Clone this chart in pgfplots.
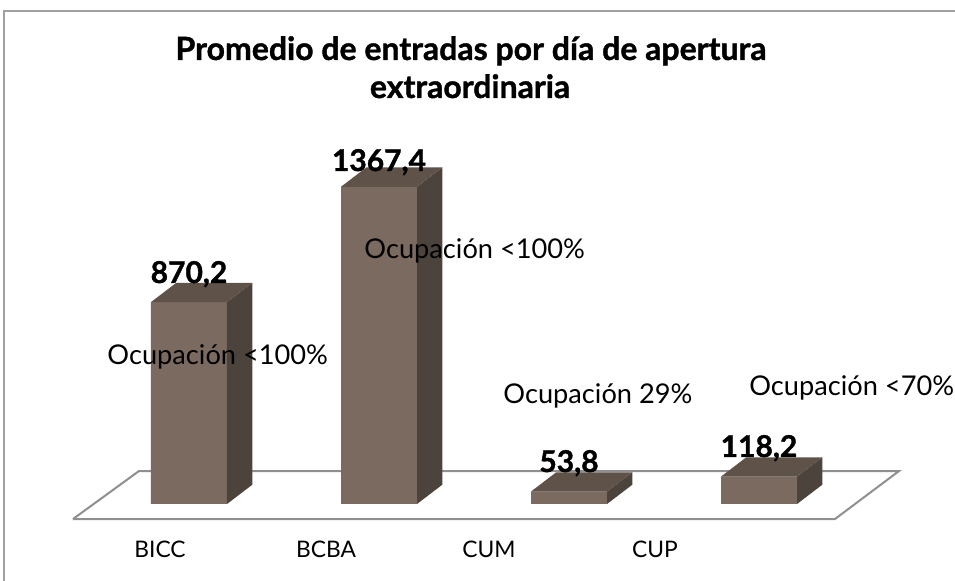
\documentclass[border=0pt]{standalone}
\usepackage{fontspec}
\setmainfont{Lato}
\usepackage{pgfplots}
\pgfplotsset{compat=1.18}
\usepackage{pgfplotstable}

\definecolor{barfront}{HTML}{7B6A60}
\definecolor{bartop}{HTML}{5E5249}
\definecolor{barside}{HTML}{4C433D}
\definecolor{floorgray}{HTML}{8F8F8F}
\definecolor{framegray}{HTML}{A0A0A0}

\pgfplotstableread{
x v
0 870.2
1 1367.4
2 53.8
3 118.2
}\datatable

\newcommand{\heavy}{\bfseries\addfontfeature{FakeBold=1.2}}

\begin{document}
\begin{tikzpicture}
\begin{axis}[
  scale only axis, width=477.5pt, height=290.5pt,
  xmin=-0.9947, xmax=4.0316, ymin=-331.9, ymax=2172.4,
  axis line style={draw=none},
  ytick=\empty,
  xtick={-0.1526,0.7211,1.5789,2.453},
  xticklabels={BICC,BCBA,CUM,CUP},
  major tick length=0pt,
  xticklabel style={anchor=base, yshift=11.5pt, inner sep=0pt, font=\fontsize{11.4}{13}\selectfont},
  clip=false,
]
\coordinate (SW) at (rel axis cs:0,0);
\coordinate (NE) at (rel axis cs:1,1);
% frame
\addplot[color=framegray, line width=0.75pt] coordinates {(-0.9737,-331.9) (-0.9737,2125) (4.0316,2125)};
% floor
\addplot[draw=floorgray, line width=1pt, fill=white, line join=miter] coordinates {(-0.6105,-64.7) (3.4,-64.7) (3.737,142.2) (-0.263,142.2) (-0.6105,-64.7)};
% front faces
\addplot[ybar, bar width=0.4, fill=barfront, draw=none] table[x=x,y=v]{\datatable};
% side faces
\addplot[fill=barside, draw=none] coordinates {(0.2,0) (0.333,83) (0.333,953.2) (0.2,870.2) (0.2,0)};
\addplot[fill=barside, draw=none] coordinates {(1.2,0) (1.333,83) (1.333,1450.4) (1.2,1367.4) (1.2,0)};
\addplot[fill=barside, draw=none] coordinates {(2.2,0) (2.333,83) (2.333,136.8) (2.2,53.8) (2.2,0)};
\addplot[fill=barside, draw=none] coordinates {(3.2,0) (3.333,83) (3.333,201.2) (3.2,118.2) (3.2,0)};
% top faces
\addplot[fill=bartop, draw=none] coordinates {(-0.2,870.2) (0.2,870.2) (0.333,953.2) (-0.067,953.2) (-0.2,870.2)};
\addplot[fill=bartop, draw=none] coordinates {(0.8,1367.4) (1.2,1367.4) (1.333,1450.4) (0.933,1450.4) (0.8,1367.4)};
\addplot[fill=bartop, draw=none] coordinates {(1.8,53.8) (2.2,53.8) (2.333,136.8) (1.933,136.8) (1.8,53.8)};
\addplot[fill=bartop, draw=none] coordinates {(2.8,118.2) (3.2,118.2) (3.333,201.2) (2.933,201.2) (2.8,118.2)};
% value labels
\node[anchor=base, inner sep=0pt, font=\heavy\fontsize{15}{17}\selectfont] at (axis cs:0,952.6) {870,2};
\node[anchor=base, inner sep=0pt, font=\heavy\fontsize{15}{17}\selectfont] at (axis cs:1,1435.3) {1367,4};
\node[anchor=base, inner sep=0pt, font=\heavy\fontsize{15}{17}\selectfont] at (axis cs:2,137.9) {53,8};
\node[anchor=base, inner sep=0pt, font=\heavy\fontsize{15}{17}\selectfont] at (axis cs:3,202.6) {118,2};
% occupancy labels
\node[anchor=base west, inner sep=0pt, font=\fontsize{13.6}{16}\selectfont] at (axis cs:-0.4316,603.4) {Ocupación <100\%};
\node[anchor=base west, inner sep=0pt, font=\fontsize{13.6}{16}\selectfont] at (axis cs:0.921,1060.3) {Ocupación <100\%};
\node[anchor=base west, inner sep=0pt, font=\fontsize{13.6}{16}\selectfont] at (axis cs:1.6526,435.3) {Ocupación 29\%};
\node[anchor=base west, inner sep=0pt, font=\fontsize{13.6}{16}\selectfont] at (axis cs:2.947,469.8) {Ocupación <70\%};
% title
\node[anchor=base, inner sep=0pt, font=\heavy\fontsize{16}{18}\selectfont] at (axis cs:1.484,1913.8) {Promedio de entradas por día de apertura};
\node[anchor=base, inner sep=0pt, font=\heavy\fontsize{16}{18}\selectfont] at (axis cs:1.479,1750) {extraordinaria};
\end{axis}
\pgfresetboundingbox
\path[use as bounding box] (SW) rectangle (NE);
\end{tikzpicture}
\end{document}
